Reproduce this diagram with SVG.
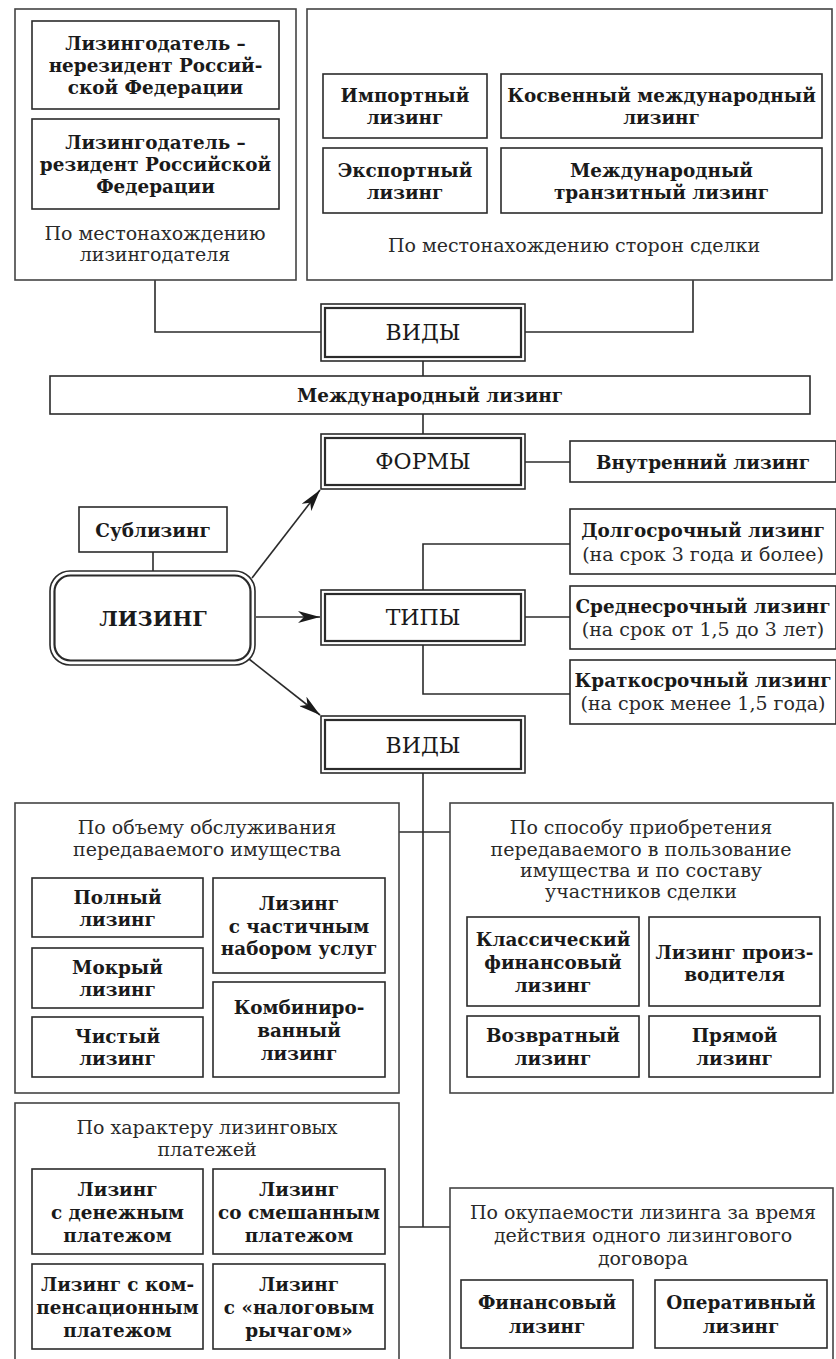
<svg xmlns="http://www.w3.org/2000/svg" width="836" height="1359" viewBox="0 0 836 1359">
<style>
.bx{fill:#fff;stroke:#2b2b2b;stroke-width:1.6}
.gp{fill:#fff;stroke:#444;stroke-width:1.6}
.in{fill:none;stroke:#2b2b2b;stroke-width:2.2}
.ln{fill:none;stroke:#2b2b2b;stroke-width:1.6}
text{font-family:"DejaVu Serif","Liberation Serif",serif;font-size:18.4px;fill:#1a1a1a;text-anchor:middle;dominant-baseline:central}
.b{font-weight:bold}
.r{font-weight:normal;font-size:19px;fill:#2a2a2a}
.cap{font-size:22px;font-weight:normal}
.big{font-size:21px;font-weight:bold}
</style>
<defs>
<marker id="ah" viewBox="0 0 22 12" refX="22" refY="6" markerWidth="22" markerHeight="12" orient="auto" markerUnits="userSpaceOnUse">
<path d="M0,0 L22,6 L0,12 L6,6 z" fill="#1a1a1a"/>
</marker>
</defs>
<rect width="836" height="1359" fill="#fff"/>

<g id="connectors">
<path class="ln" d="M155,280 V332 H321"/>
<path class="ln" d="M693,280 V332 H525"/>
<path class="ln" d="M423,361 V376"/>
<path class="ln" d="M423,414 V434"/>
<path class="ln" d="M525,462 H570"/>
<path class="ln" d="M153,552 V571"/>
<path class="ln" d="M570,544 H423 V590"/>
<path class="ln" d="M525,617 H570"/>
<path class="ln" d="M423,645 V694 H570"/>
<path class="ln" d="M423,773 V1227"/>
<path class="ln" d="M399,832 H450"/>
<path class="ln" d="M399,1227 H450"/>
<path class="ln" d="M252,578 L320,490" marker-end="url(#ah)"/>
<path class="ln" d="M256,617 H320" marker-end="url(#ah)"/>
<path class="ln" d="M249,659 L320,715" marker-end="url(#ah)"/>
</g>

<g id="grp-lessor-location">
<rect class="gp" x="15" y="9" width="281" height="271"/>
<text class="r" x="155" y="233">По местонахождению</text>
<text class="r" x="155" y="254">лизингодателя</text>
</g>
<g id="n-nonresident">
<rect class="bx" x="32" y="21" width="247" height="88"/>
<text class="b" x="155.5" y="43">Лизингодатель –</text>
<text class="b" x="155.5" y="65">нерезидент Россий-</text>
<text class="b" x="155.5" y="87">ской Федерации</text>
</g>
<g id="n-resident">
<rect class="bx" x="32" y="119" width="247" height="90"/>
<text class="b" x="155.5" y="142">Лизингодатель –</text>
<text class="b" x="155.5" y="164">резидент Российской</text>
<text class="b" x="155.5" y="186">Федерации</text>
</g>

<g id="grp-parties-location">
<rect class="gp" x="307" y="9" width="525" height="271"/>
<text class="r" x="574" y="245">По местонахождению сторон сделки</text>
</g>
<g id="n-import">
<rect class="bx" x="323" y="74" width="164" height="64"/>
<text class="b" x="405" y="95">Импортный</text>
<text class="b" x="405" y="117">лизинг</text>
</g>
<g id="n-export">
<rect class="bx" x="323" y="148" width="164" height="65"/>
<text class="b" x="405" y="170">Экспортный</text>
<text class="b" x="405" y="192">лизинг</text>
</g>
<g id="n-indirect">
<rect class="bx" x="501" y="74" width="321" height="64"/>
<text class="b" x="661.5" y="95">Косвенный международный</text>
<text class="b" x="661.5" y="117">лизинг</text>
</g>
<g id="n-transit">
<rect class="bx" x="501" y="148" width="321" height="65"/>
<text class="b" x="661.5" y="170">Международный</text>
<text class="b" x="661.5" y="192">транзитный лизинг</text>
</g>

<g id="n-vidy-top">
<rect class="bx" x="321" y="304" width="204" height="57"/>
<rect class="in" x="325" y="308" width="196" height="49"/>
<text class="cap" x="423" y="332">ВИДЫ</text>
</g>
<g id="n-international">
<rect class="bx" x="50" y="376" width="760" height="38"/>
<text class="b" x="430" y="395">Международный лизинг</text>
</g>
<g id="n-formy">
<rect class="bx" x="321" y="434" width="204" height="55"/>
<rect class="in" x="325" y="438" width="196" height="47"/>
<text class="cap" x="423" y="461">ФОРМЫ</text>
</g>
<g id="n-domestic">
<rect class="bx" x="570" y="441" width="266" height="41"/>
<text class="b" x="703" y="462">Внутренний лизинг</text>
</g>
<g id="n-sublease">
<rect class="bx" x="79" y="507" width="148" height="45"/>
<text class="b" x="153" y="530">Сублизинг</text>
</g>
<g id="n-leasing">
<rect class="bx" x="50" y="571" width="205" height="94" rx="20" ry="20"/>
<rect class="in" x="54.5" y="575.5" width="196" height="85" rx="16" ry="16"/>
<text class="big" x="153" y="618">ЛИЗИНГ</text>
</g>
<g id="n-tipy">
<rect class="bx" x="321" y="590" width="204" height="55"/>
<rect class="in" x="325" y="594" width="196" height="47"/>
<text class="cap" x="423" y="617">ТИПЫ</text>
</g>
<g id="n-long">
<rect class="bx" x="570" y="509" width="266" height="65"/>
<text class="b" x="703" y="530">Долгосрочный лизинг</text>
<text class="r" x="703" y="554">(на срок 3 года и более)</text>
</g>
<g id="n-medium">
<rect class="bx" x="570" y="586" width="266" height="63"/>
<text class="b" x="703" y="606">Среднесрочный лизинг</text>
<text class="r" x="703" y="629">(на срок от 1,5 до 3 лет)</text>
</g>
<g id="n-short">
<rect class="bx" x="570" y="660" width="266" height="64"/>
<text class="b" x="703" y="680">Краткосрочный лизинг</text>
<text class="r" x="703" y="703">(на срок менее 1,5 года)</text>
</g>
<g id="n-vidy-bottom">
<rect class="bx" x="321" y="716" width="204" height="57"/>
<rect class="in" x="325" y="720" width="196" height="49"/>
<text class="cap" x="423" y="745">ВИДЫ</text>
</g>

<g id="grp-service">
<rect class="gp" x="15" y="803" width="384" height="290"/>
<text class="r" x="207" y="827">По объему обслуживания</text>
<text class="r" x="207" y="849">передаваемого имущества</text>
</g>
<g id="n-full">
<rect class="bx" x="32" y="878" width="171" height="59"/>
<text class="b" x="117.5" y="897">Полный</text>
<text class="b" x="117.5" y="919">лизинг</text>
</g>
<g id="n-wet">
<rect class="bx" x="32" y="948" width="171" height="60"/>
<text class="b" x="117.5" y="967">Мокрый</text>
<text class="b" x="117.5" y="989">лизинг</text>
</g>
<g id="n-net">
<rect class="bx" x="32" y="1017" width="171" height="60"/>
<text class="b" x="117.5" y="1036">Чистый</text>
<text class="b" x="117.5" y="1058">лизинг</text>
</g>
<g id="n-partial">
<rect class="bx" x="213" y="878" width="172" height="95"/>
<text class="b" x="299" y="903">Лизинг</text>
<text class="b" x="299" y="926">с частичным</text>
<text class="b" x="299" y="948">набором услуг</text>
</g>
<g id="n-combined">
<rect class="bx" x="213" y="982" width="172" height="95"/>
<text class="b" x="299" y="1007">Комбиниро-</text>
<text class="b" x="299" y="1030">ванный</text>
<text class="b" x="299" y="1053">лизинг</text>
</g>

<g id="grp-acquisition">
<rect class="gp" x="450" y="803" width="383" height="290"/>
<text class="r" x="641" y="827">По способу приобретения</text>
<text class="r" x="641" y="849">передаваемого в пользование</text>
<text class="r" x="641" y="870">имущества и по составу</text>
<text class="r" x="641" y="891">участников сделки</text>
</g>
<g id="n-classic">
<rect class="bx" x="467" y="917" width="172" height="89"/>
<text class="b" x="553" y="939">Классический</text>
<text class="b" x="553" y="962">финансовый</text>
<text class="b" x="553" y="985">лизинг</text>
</g>
<g id="n-manufacturer">
<rect class="bx" x="649" y="917" width="171" height="89"/>
<text class="b" x="734.5" y="952">Лизинг произ-</text>
<text class="b" x="734.5" y="974">водителя</text>
</g>
<g id="n-leaseback">
<rect class="bx" x="467" y="1016" width="172" height="61"/>
<text class="b" x="553" y="1035">Возвратный</text>
<text class="b" x="553" y="1058">лизинг</text>
</g>
<g id="n-direct">
<rect class="bx" x="649" y="1016" width="171" height="61"/>
<text class="b" x="734.5" y="1035">Прямой</text>
<text class="b" x="734.5" y="1058">лизинг</text>
</g>

<g id="grp-payments">
<rect class="gp" x="15" y="1103" width="384" height="270"/>
<text class="r" x="207" y="1127">По характеру лизинговых</text>
<text class="r" x="207" y="1149">платежей</text>
</g>
<g id="n-cash">
<rect class="bx" x="32" y="1169" width="171" height="85"/>
<text class="b" x="117.5" y="1189">Лизинг</text>
<text class="b" x="117.5" y="1212">с денежным</text>
<text class="b" x="117.5" y="1235">платежом</text>
</g>
<g id="n-mixed">
<rect class="bx" x="213" y="1169" width="172" height="85"/>
<text class="b" x="299" y="1189">Лизинг</text>
<text class="b" x="299" y="1212">со смешанным</text>
<text class="b" x="299" y="1235">платежом</text>
</g>
<g id="n-compensation">
<rect class="bx" x="32" y="1264" width="171" height="85"/>
<text class="b" x="117.5" y="1284">Лизинг с ком-</text>
<text class="b" x="117.5" y="1307">пенсационным</text>
<text class="b" x="117.5" y="1330">платежом</text>
</g>
<g id="n-tax">
<rect class="bx" x="213" y="1264" width="172" height="85"/>
<text class="b" x="299" y="1284">Лизинг</text>
<text class="b" x="299" y="1307">с «налоговым</text>
<text class="b" x="299" y="1330">рычагом»</text>
</g>

<g id="grp-payback">
<rect class="gp" x="450" y="1188" width="383" height="185"/>
<text class="r" x="643" y="1212">По окупаемости лизинга за время</text>
<text class="r" x="643" y="1235">действия одного лизингового</text>
<text class="r" x="643" y="1258">договора</text>
</g>
<g id="n-financial">
<rect class="bx" x="461" y="1280" width="172" height="68"/>
<text class="b" x="547" y="1302">Финансовый</text>
<text class="b" x="547" y="1326">лизинг</text>
</g>
<g id="n-operating">
<rect class="bx" x="655" y="1280" width="172" height="68"/>
<text class="b" x="741" y="1302">Оперативный</text>
<text class="b" x="741" y="1326">лизинг</text>
</g>
</svg>
